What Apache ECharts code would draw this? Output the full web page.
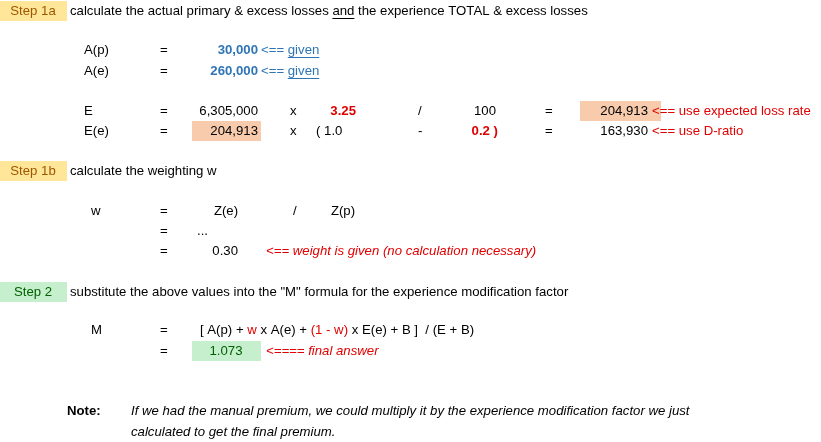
<!DOCTYPE html>
<html>
<head>
<meta charset="utf-8">
<script src="https://cdn.jsdelivr.net/npm/echarts@6/dist/echarts.min.js"></script>
<style>html,body{margin:0;background:#fff}#main{width:821px;height:442px}</style>
</head>
<body>
<div id="main"></div>
<script>
// worksheet values
var stepLabels = ['Step 1a', 'Step 1b', 'Step 2'];
var stepTexts = [
    'calculate the actual primary & excess losses and the experience TOTAL & excess losses',
    'calculate the weighting w',
    'substitute the above values into the "M" formula for the experience modification factor'
];
var givenNames = ['A(p)', 'A(e)'];
var givenValues = ['30,000', '260,000'];
var expRows = ['E', 'E(e)'];
var expFirst = ['6,305,000', '204,913'];
var expSecond = ['3.25', '( 1.0'];
var expOp = ['/', '-'];
var expThird = ['100', '0.2 )'];
var expResult = ['204,913', '163,930'];
var expNotes = ['<== use expected loss rate', '<== use D-ratio'];
var weight = '0.30';
var mResult = '1.073';

var BLUE = '#2E75B6', RED = '#E00000', FONT = '"Liberation Sans", Arial, sans-serif', SIZE = '13.2px ';
var g = [];
var ctx = document.createElement('canvas').getContext('2d');
function measure(s, f) { ctx.font = (f || '') + ' ' + SIZE + FONT; return ctx.measureText(s).width; }
function txt(x, y, s, opt) {
    opt = opt || {};
    g.push({
        type: 'text', x: x, y: y,
        style: {
            text: s, fill: opt.color || '#000', font: (opt.style || '') + ' ' + (opt.weight || 'normal') + ' ' + SIZE + FONT,
            align: opt.align || 'left', verticalAlign: 'middle', rich: opt.rich
        }
    });
}
function box(x, y, w, h, c) {
    g.push({ type: 'rect', shape: { x: x, y: y, width: w, height: h }, style: { fill: c } });
}
function uline(x1, x2, y, c) {
    g.push({ type: 'line', shape: { x1: x1, y1: y, x2: x2, y2: y }, style: { stroke: c, lineWidth: 1 } });
}

// step headers
var stepY = [11, 171, 292], stepColors = ['#FFE699', '#FFE699', '#C6EFCE'];
for (var i = 0; i < 3; i++) {
    box(0, stepY[i] - 10, 67, 20, stepColors[i]);
    txt(33, stepY[i], stepLabels[i], { align: 'center', color: i == 2 ? '#006100' : '#9C5700' });
    txt(70, stepY[i], stepTexts[i]);
}
var pre = 'calculate the actual primary & excess losses ';
var ax = 70 + measure(pre);
uline(ax, ax + measure('and'), 18.5, '#000');

// given values
for (var i = 0; i < 2; i++) {
    var y = 50 + i * 21;
    txt(84, y, givenNames[i]);
    txt(160, y, '=');
    txt(258, y, givenValues[i], { align: 'right', color: BLUE, weight: 'bold' });
    txt(261, y, '<== given', { color: BLUE });
    var gx = 261 + measure('<== ');
    uline(gx, gx + measure('given'), y + 7.5, BLUE);
}

// expected losses
box(580, 101, 81, 20, '#F8CBAD');
box(192, 121, 69, 20, '#F8CBAD');
for (var i = 0; i < 2; i++) {
    var y = 111 + i * 20;
    txt(84, y, expRows[i]);
    txt(160, y, '=');
    txt(258, y, expFirst[i], { align: 'right' });
    txt(290, y, 'x');
    if (i == 0) txt(356, y, expSecond[i], { align: 'right', color: RED, weight: 'bold' });
    else txt(316, y, expSecond[i]);
    txt(418, y, expOp[i]);
    if (i == 0) txt(485, y, expThird[i], { align: 'center' });
    else txt(498, y, expThird[i], { align: 'right', color: RED, weight: 'bold' });
    txt(545, y, '=');
    txt(648, y, expResult[i], { align: 'right' });
    txt(652, y, expNotes[i], { color: RED });
}

// weighting
txt(91, 211, 'w');
txt(160, 211, '=');
txt(226, 211, 'Z(e)', { align: 'center' });
txt(293, 211, '/');
txt(343, 211, 'Z(p)', { align: 'center' });
txt(160, 231, '=');
txt(197, 231, '...');
txt(160, 251, '=');
txt(238, 251, weight, { align: 'right' });
txt(266, 251, '<== weight is given (no calculation necessary)', { color: RED, style: 'italic' });

// M formula
txt(91, 330, 'M');
txt(160, 330, '=');
txt(200, 330, '[ A(p) + {r|w} x A(e) + {r|(1 - w)} x E(e) + B ]  / (E + B)', { rich: { r: { fill: RED, font: SIZE + FONT } } });
txt(160, 351, '=');
box(192, 341, 69, 20, '#C6EFCE');
txt(226, 351, mResult, { align: 'center', color: '#006100' });
txt(266, 351, '<==== final answer', { color: RED, style: 'italic' });

// note
txt(67, 411, 'Note:', { weight: 'bold' });
txt(131, 411, 'If we had the manual premium, we could multiply it by the experience modification factor we just', { style: 'italic' });
txt(131, 432, 'calculated to get the final premium.', { style: 'italic' });

var chart = echarts.init(document.getElementById('main'));
chart.setOption({ backgroundColor: '#fff', graphic: g });
</script>
</body>
</html>
